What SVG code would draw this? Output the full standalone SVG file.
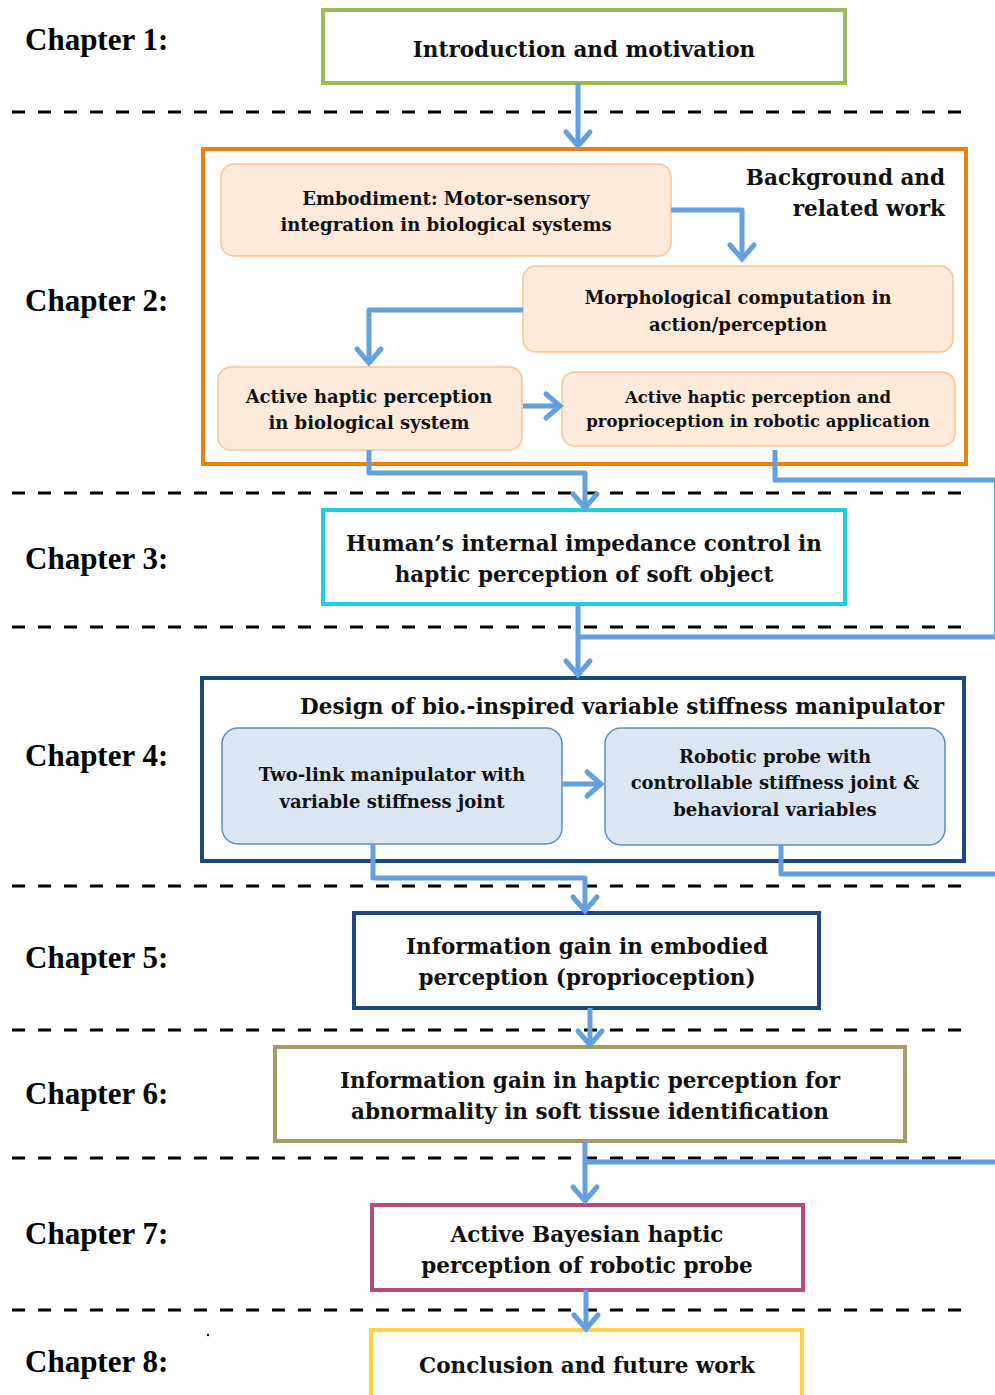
<svg xmlns="http://www.w3.org/2000/svg" width="995" height="1395" viewBox="0 0 995 1395">
<style>
.ch{font-family:"Liberation Serif",serif;font-weight:bold;font-size:31px;fill:#000}
.t{font-family:"DejaVu Serif",serif;font-weight:bold;fill:#111;text-anchor:middle}
.big{font-size:21.5px}
.mid{font-size:18px}
.sm{font-size:16.5px}
.dash{stroke:#000;stroke-width:3;stroke-dasharray:13 13;fill:none}
.box{fill:#fff;stroke-width:4}
.or{fill:#FDEADA;stroke:#FAC594;stroke-width:1.5}
.bl{fill:#DCE6F2;stroke:#5B8CC8;stroke-width:1.5}
.c{fill:none;stroke:#63A0DD;stroke-width:5;stroke-linejoin:round}
</style>
<defs>
<marker id="ah" markerUnits="userSpaceOnUse" markerWidth="40" markerHeight="40" viewBox="-20 -20 40 40" refX="-3" refY="0" orient="auto" overflow="visible">
<path d="M-14,-12 L0,0 L-14,12" fill="none" stroke="#63A0DD" stroke-width="5" stroke-linecap="round" stroke-linejoin="miter"/>
</marker>
</defs>
<rect width="995" height="1395" fill="#fff"/>
<g id="chapters">
<text class="ch" x="25" y="50">Chapter 1:</text>
<text class="ch" x="25" y="311">Chapter 2:</text>
<text class="ch" x="25" y="569">Chapter 3:</text>
<text class="ch" x="25" y="766">Chapter 4:</text>
<text class="ch" x="25" y="968">Chapter 5:</text>
<text class="ch" x="25" y="1104">Chapter 6:</text>
<text class="ch" x="25" y="1244">Chapter 7:</text>
<text class="ch" x="25" y="1372">Chapter 8:</text>
</g>
<g id="separators">
<line class="dash" x1="12" y1="112" x2="965" y2="112"/>
<line class="dash" x1="12" y1="493" x2="965" y2="493"/>
<line class="dash" x1="12" y1="627" x2="965" y2="627"/>
<line class="dash" x1="12" y1="886" x2="965" y2="886"/>
<line class="dash" x1="12" y1="1030" x2="965" y2="1030"/>
<line class="dash" x1="12" y1="1158" x2="965" y2="1158"/>
<line class="dash" x1="12" y1="1310" x2="965" y2="1310"/>
</g>
<g id="ch1">
<rect class="box" x="323" y="10" width="522" height="73" stroke="#9BBB59"/>
<text class="t big" x="584" y="57">Introduction and motivation</text>
</g>
<g id="ch2">
<rect class="box" x="203" y="149" width="763" height="315" stroke="#EE7E10"/>
<text class="t big" x="945" y="185" style="text-anchor:end">Background and</text>
<text class="t big" x="945" y="216" style="text-anchor:end">related work</text>
</g>
<g id="ch2-embodiment">
<rect class="or" x="221" y="164" width="450" height="92" rx="13"/>
<text class="t mid" x="446" y="205">Embodiment: Motor-sensory</text>
<text class="t mid" x="446" y="231">integration in biological systems</text>
</g>
<g id="ch2-morph">
<rect class="or" x="523" y="266" width="430" height="86" rx="13"/>
<text class="t mid" x="738" y="304">Morphological computation in</text>
<text class="t mid" x="738" y="331">action/perception</text>
</g>
<g id="ch2-bio">
<rect class="or" x="218" y="367" width="304" height="83" rx="13"/>
<text class="t mid" x="369" y="403">Active haptic perception</text>
<text class="t mid" x="369" y="429">in biological system</text>
</g>
<g id="ch2-robot">
<rect class="or" x="562" y="372" width="393" height="74" rx="13"/>
<text class="t sm" x="758" y="403">Active haptic perception and</text>
<text class="t sm" x="758" y="427">proprioception in robotic application</text>
</g>
<g id="ch3">
<rect class="box" x="323" y="510" width="522" height="94" stroke="#1BD1DA"/>
<text class="t big" x="584" y="551">Human’s internal impedance control in</text>
<text class="t big" x="584" y="582">haptic perception of soft object</text>
</g>
<g id="ch4">
<rect class="box" x="202" y="678" width="762" height="183" stroke="#1F497D"/>
<text class="t big" x="944" y="714" style="text-anchor:end">Design of bio.-inspired variable stiffness manipulator</text>
</g>
<g id="ch4-twolink">
<rect class="bl" x="222" y="728" width="340" height="116" rx="16"/>
<text class="t mid" x="392" y="781">Two-link manipulator with</text>
<text class="t mid" x="392" y="808">variable stiffness joint</text>
</g>
<g id="ch4-probe">
<rect class="bl" x="605" y="728" width="340" height="117" rx="16"/>
<text class="t mid" x="775" y="763">Robotic probe with</text>
<text class="t mid" x="775" y="789">controllable stiffness joint &amp;</text>
<text class="t mid" x="775" y="816">behavioral variables</text>
</g>
<g id="ch5">
<rect class="box" x="354" y="913" width="465" height="95" stroke="#1F497D"/>
<text class="t big" x="587" y="954">Information gain in embodied</text>
<text class="t big" x="587" y="985">perception (proprioception)</text>
</g>
<g id="ch6">
<rect class="box" x="275" y="1047" width="630" height="94" stroke="#A79B67"/>
<text class="t big" x="590" y="1088">Information gain in haptic perception for</text>
<text class="t big" x="590" y="1119">abnormality in soft tissue identification</text>
</g>
<g id="ch7">
<rect class="box" x="372" y="1205" width="431" height="85" stroke="#B84B7D"/>
<text class="t big" x="587" y="1242">Active Bayesian haptic</text>
<text class="t big" x="587" y="1273">perception of robotic probe</text>
</g>
<g id="ch8">
<rect class="box" x="371" y="1330" width="431" height="80" stroke="#FFD43F"/>
<text class="t big" x="587" y="1373">Conclusion and future work</text>
</g>
<circle cx="208" cy="1335" r="1.2" fill="#000"/>
<g id="connectors">
<path class="c" d="M578,83 V143" marker-end="url(#ah)"/>
<path class="c" d="M671,210 H742 V256" marker-end="url(#ah)"/>
<path class="c" d="M523,310 H369 V360" marker-end="url(#ah)"/>
<path class="c" d="M523,406 H557" marker-end="url(#ah)"/>
<path class="c" d="M369,450 V473 H585 V505" marker-end="url(#ah)"/>
<path class="c" d="M775,450 V480 H996.5 V637 H580"/>
<path class="c" d="M578,604 V672" marker-end="url(#ah)"/>
<path class="c" d="M563,784 H598" marker-end="url(#ah)"/>
<path class="c" d="M373,844 V878 H585 V908" marker-end="url(#ah)"/>
<path class="c" d="M781,845 V874 H1000"/>
<path class="c" d="M590,1008 V1042" marker-end="url(#ah)"/>
<path class="c" d="M1000,1162 H585"/>
<path class="c" d="M585,1141 V1198" marker-end="url(#ah)"/>
<path class="c" d="M586,1290 V1326" marker-end="url(#ah)"/>
</g>
</svg>
